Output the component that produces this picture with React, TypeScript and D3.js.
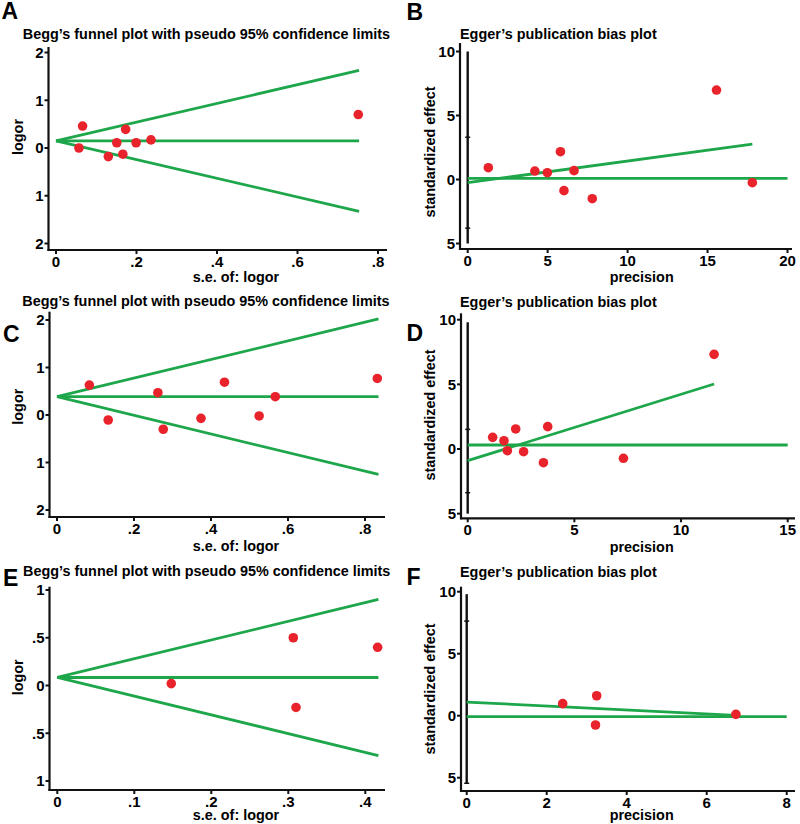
import React from "react";
import * as d3 from "d3";

// ---------- DATA ----------
// Panel A (Begg's funnel)
const A_se = [0.057, 0.066, 0.13, 0.151, 0.166, 0.173, 0.199, 0.236, 0.751];
const A_logor = [0.0, 0.46, -0.18, 0.11, -0.13, 0.39, 0.11, 0.17, 0.7];
const A_pooled = 0.15;
const A_seMax = 0.753;
// Panel B (Egger)
const B_precision = [1.29, 4.2, 4.98, 5.8, 6.02, 6.65, 7.79, 15.56, 17.8];
const B_effect = [0.92, 0.66, 0.53, 2.17, -0.87, 0.69, -1.5, 6.99, -0.25];
const B_regX = [0, 17.8];
const B_regY = [-0.25, 2.77];
const B_hline = 0.09;
const B_hlineX = [0, 20];
const B_vline = [10, -5];
const B_ciMarks = [3.3, -3.8];
// Panel C (Begg's funnel)
const C_se = [0.084, 0.133, 0.262, 0.276, 0.374, 0.435, 0.525, 0.567, 0.832];
const C_logor = [0.63, -0.105, 0.47, -0.3, -0.07, 0.69, -0.02, 0.385, 0.77];
const C_pooled = 0.385;
const C_seMax = 0.835;
// Panel D (Egger)
const D_precision = [1.17, 1.7, 1.86, 2.25, 2.62, 3.55, 3.75, 7.3, 11.55];
const D_effect = [0.9, 0.64, -0.13, 1.55, -0.21, -1.06, 1.73, -0.72, 7.32];
const D_regX = [0, 11.55];
const D_regY = [-0.9, 5.03];
const D_hline = 0.31;
const D_hlineX = [0, 15];
const D_vline = [9.8, -5];
const D_ciMarks = [1.52, -3.38];
// Panel E (Begg's funnel)
const E_se = [0.148, 0.3065, 0.31, 0.416];
const E_logor = [0.02, 0.5, -0.23, 0.4];
const E_pooled = 0.084;
const E_seMax = 0.417;
// Panel F (Egger)
const F_precision = [2.4, 3.25, 3.22, 6.73];
const F_effect = [0.97, 1.61, -0.75, 0.11];
const F_regX = [0, 6.73];
const F_regY = [1.1, 0.02];
const F_hline = -0.08;
const F_hlineX = [0, 8];
const F_vline = [9.8, -5.5];
const F_ciMarks = [7.63, -5.45];

// Ticks
const funnelYTicks2 = [2, 1, 0, -1, -2];
const funnelYLabels2 = ["2", "1", "0", "1", "2"];
const funnelXTicks08 = [0, 0.2, 0.4, 0.6, 0.8];
const funnelXLabels08 = ["0", ".2", ".4", ".6", ".8"];
const funnelYTicks1 = [1, 0.5, 0, -0.5, -1];
const funnelYLabels1 = ["1", ".5", "0", ".5", "1"];
const funnelXTicks04 = [0, 0.1, 0.2, 0.3, 0.4];
const funnelXLabels04 = ["0", ".1", ".2", ".3", ".4"];
const eggerYTicks = [10, 5, 0, -5];
const eggerYLabels = ["10", "5", "0", "5"];
const B_xTicks = [0, 5, 10, 15, 20];
const D_xTicks = [0, 5, 10, 15];
const F_xTicks = [0, 2, 4, 6, 8];

const Z = 1.96;

// ---------- STYLE ----------
const RED = "#e8232b";
const GREEN = "#1ea64b";
const FONT = "'Liberation Sans', Arial, Helvetica, sans-serif";
const FS = 14.4;
const TFS = 15;

type Layout = {
  xDomain: [number, number];
  xRange: [number, number];
  yDomain: [number, number];
  yRange: [number, number];
  yAxisX: number;
  yAxisTop: number;
  xAxisY: number;
  xAxisRight: number;
  title: string;
  titleX: number;
  titleY: number;
  titleAnchor: "middle" | "start";
  letter: string;
  letterX: number;
  letterY: number;
  yLabel: string;
  yLabelX: number;
  yLabelY: number;
  xLabel: string;
  xLabelX: number;
  xLabelY: number;
  yTicks: number[];
  yTickLabels: string[];
  xTicks: number[];
  xTickLabels: string[];
};

type Lines = { x: number[]; y: number[]; color: string }[];

function Panel({
  L,
  px,
  py,
  lines,
  vline,
  ciMarks,
}: {
  L: Layout;
  px: number[];
  py: number[];
  lines: Lines;
  vline?: number[];
  ciMarks?: number[];
}) {
  const x = d3.scaleLinear().domain(L.xDomain).range(L.xRange);
  const y = d3.scaleLinear().domain(L.yDomain).range(L.yRange);
  const lineGen = d3
    .line<[number, number]>()
    .x((d) => x(d[0]))
    .y((d) => y(d[1]));
  return (
    <g fontFamily={FONT} fontWeight="bold">
      <text x={L.letterX} y={L.letterY} fontSize={23}>
        {L.letter}
      </text>
      <text x={L.titleX} y={L.titleY} fontSize={FS} textAnchor={L.titleAnchor}>
        {L.title}
      </text>
      {/* axes */}
      <line x1={L.yAxisX} x2={L.yAxisX} y1={L.yAxisTop} y2={L.xAxisY + 1} stroke="#111" strokeWidth={2.2} />
      <line x1={L.yAxisX - 1} x2={L.xAxisRight} y1={L.xAxisY} y2={L.xAxisY} stroke="#111" strokeWidth={2.2} />
      {L.yTicks.map((t, i) => (
        <g key={"yt" + i}>
          <line x1={L.yAxisX - 4} x2={L.yAxisX} y1={y(t)} y2={y(t)} stroke="#111" strokeWidth={2} />
          <text x={L.yAxisX - 5} y={y(t)} dy="0.36em" textAnchor="end" fontSize={TFS}>
            {L.yTickLabels[i]}
          </text>
        </g>
      ))}
      {L.xTicks.map((t, i) => (
        <g key={"xt" + i}>
          <line x1={x(t)} x2={x(t)} y1={L.xAxisY} y2={L.xAxisY + 4} stroke="#111" strokeWidth={2} />
          <text x={x(t)} y={L.xAxisY + 17} textAnchor="middle" fontSize={TFS}>
            {L.xTickLabels[i]}
          </text>
        </g>
      ))}
      <text
        transform={`translate(${L.yLabelX},${L.yLabelY}) rotate(-90)`}
        textAnchor="middle"
        fontSize={FS}
      >
        {L.yLabel}
      </text>
      <text x={L.xLabelX} y={L.xLabelY} textAnchor="middle" fontSize={FS}>
        {L.xLabel}
      </text>
      {vline && (
        <line x1={x(0)} x2={x(0)} y1={y(vline[0])} y2={y(vline[1])} stroke="#111" strokeWidth={2.4} />
      )}
      {ciMarks &&
        ciMarks.map((m, i) => (
          <line key={"ci" + i} x1={x(0) - 2.5} x2={x(0) + 2.5} y1={y(m)} y2={y(m)} stroke="#111" strokeWidth={1.5} />
        ))}
      {lines.map((ln, i) => (
        <path
          key={"ln" + i}
          d={lineGen(ln.x.map((v, j) => [v, ln.y[j]] as [number, number])) || ""}
          fill="none"
          stroke={ln.color}
          strokeWidth={2.8}
        />
      ))}
      {px.map((v, i) => (
        <circle key={"p" + i} cx={x(v)} cy={y(py[i])} r={4.8} fill={RED} />
      ))}
    </g>
  );
}

function funnelLines(pooled: number, seMax: number): Lines {
  const se = [0, seMax];
  return [
    { x: se, y: se.map((s) => pooled + Z * s), color: GREEN },
    { x: se, y: se.map(() => pooled), color: GREEN },
    { x: se, y: se.map((s) => pooled - Z * s), color: GREEN },
  ];
}

const BEGG = "Begg\u2019s funnel plot with pseudo 95% confidence limits";
const EGGER = "Egger\u2019s publication bias plot";

const LA: Layout = {
  xDomain: [0, 0.8], xRange: [56, 378], yDomain: [-2, 2], yRange: [243.5, 52.5],
  yAxisX: 48.5, yAxisTop: 47, xAxisY: 250, xAxisRight: 387,
  title: BEGG, titleX: 206.5, titleY: 38.5, titleAnchor: "middle",
  letter: "A", letterX: 1.5, letterY: 19,
  yLabel: "logor", yLabelX: 22.5, yLabelY: 137,
  xLabel: "s.e. of: logor", xLabelX: 236, xLabelY: 281.5,
  yTicks: funnelYTicks2, yTickLabels: funnelYLabels2, xTicks: funnelXTicks08, xTickLabels: funnelXLabels08,
};
const LB: Layout = {
  xDomain: [0, 20], xRange: [467.7, 787.5], yDomain: [-5, 10], yRange: [243.5, 51.5],
  yAxisX: 460, yAxisTop: 43, xAxisY: 249, xAxisRight: 792,
  title: EGGER, titleX: 460, titleY: 38.5, titleAnchor: "start",
  letter: "B", letterX: 406.5, letterY: 20,
  yLabel: "standardized effect", yLabelX: 435, yLabelY: 152,
  xLabel: "precision", xLabelX: 641.7, xLabelY: 282,
  yTicks: eggerYTicks, yTickLabels: eggerYLabels, xTicks: B_xTicks, xTickLabels: B_xTicks.map(String),
};
const LC: Layout = {
  xDomain: [0, 0.8], xRange: [57, 365], yDomain: [-2, 2], yRange: [510, 320],
  yAxisX: 49.5, yAxisTop: 311.7, xAxisY: 517, xAxisRight: 385,
  title: BEGG, titleX: 206, titleY: 305.5, titleAnchor: "middle",
  letter: "C", letterX: 3, letterY: 341.5,
  yLabel: "logor", yLabelX: 22.5, yLabelY: 406.7,
  xLabel: "s.e. of: logor", xLabelX: 236, xLabelY: 551,
  yTicks: funnelYTicks2, yTickLabels: funnelYLabels2, xTicks: funnelXTicks08, xTickLabels: funnelXLabels08,
};
const LD: Layout = {
  xDomain: [0, 15], xRange: [467.7, 787.7], yDomain: [-5, 10], yRange: [513.65, 319.7],
  yAxisX: 461, yAxisTop: 313.3, xAxisY: 518.3, xAxisRight: 795,
  title: EGGER, titleX: 460, titleY: 307, titleAnchor: "start",
  letter: "D", letterX: 406.5, letterY: 341,
  yLabel: "standardized effect", yLabelX: 435, yLabelY: 415,
  xLabel: "precision", xLabelX: 641.7, xLabelY: 552,
  yTicks: eggerYTicks, yTickLabels: eggerYLabels, xTicks: D_xTicks, xTickLabels: D_xTicks.map(String),
};
const LE: Layout = {
  xDomain: [0, 0.4], xRange: [57.3, 365.3], yDomain: [-1, 1], yRange: [781, 590],
  yAxisX: 49.5, yAxisTop: 586.7, xAxisY: 790, xAxisRight: 385,
  title: BEGG, titleX: 206.7, titleY: 576, titleAnchor: "middle",
  letter: "E", letterX: 3, letterY: 586,
  yLabel: "logor", yLabelX: 22.5, yLabelY: 677.3,
  xLabel: "s.e. of: logor", xLabelX: 236, xLabelY: 819.5,
  yTicks: funnelYTicks1, yTickLabels: funnelYLabels1, xTicks: funnelXTicks04, xTickLabels: funnelXLabels04,
};
const LF: Layout = {
  xDomain: [0, 8], xRange: [466.7, 786.7], yDomain: [-5, 10], yRange: [777.7, 591.7],
  yAxisX: 461, yAxisTop: 586.7, xAxisY: 791, xAxisRight: 795,
  title: EGGER, titleX: 460, titleY: 577, titleAnchor: "start",
  letter: "F", letterX: 406.5, letterY: 585,
  yLabel: "standardized effect", yLabelX: 435, yLabelY: 689,
  xLabel: "precision", xLabelX: 641.7, xLabelY: 819.5,
  yTicks: eggerYTicks, yTickLabels: eggerYLabels, xTicks: F_xTicks, xTickLabels: F_xTicks.map(String),
};

export default function App() {
  return (
    <svg
      width={800}
      height={824}
      style={{ position: "absolute", left: 0, top: 0, background: "#fff" }}
    >
      <rect width={800} height={824} fill="#fff" />
      <Panel L={LA} px={A_se} py={A_logor} lines={funnelLines(A_pooled, A_seMax)} />
      <Panel
        L={LB}
        px={B_precision}
        py={B_effect}
        vline={B_vline}
        ciMarks={B_ciMarks}
        lines={[
          { x: B_hlineX, y: B_hlineX.map(() => B_hline), color: GREEN },
          { x: B_regX, y: B_regY, color: GREEN },
        ]}
      />
      <Panel L={LC} px={C_se} py={C_logor} lines={funnelLines(C_pooled, C_seMax)} />
      <Panel
        L={LD}
        px={D_precision}
        py={D_effect}
        vline={D_vline}
        ciMarks={D_ciMarks}
        lines={[
          { x: D_hlineX, y: D_hlineX.map(() => D_hline), color: GREEN },
          { x: D_regX, y: D_regY, color: GREEN },
        ]}
      />
      <Panel L={LE} px={E_se} py={E_logor} lines={funnelLines(E_pooled, E_seMax)} />
      <Panel
        L={LF}
        px={F_precision}
        py={F_effect}
        vline={F_vline}
        ciMarks={F_ciMarks}
        lines={[
          { x: F_hlineX, y: F_hlineX.map(() => F_hline), color: GREEN },
          { x: F_regX, y: F_regY, color: GREEN },
        ]}
      />
    </svg>
  );
}
